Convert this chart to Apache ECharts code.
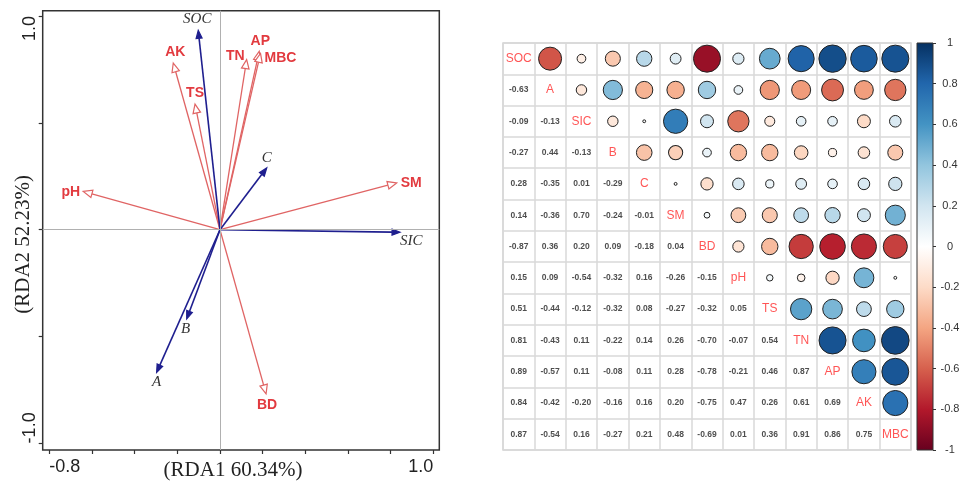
<!DOCTYPE html>
<html>
<head>
<meta charset="utf-8">
<script src="https://cdn.jsdelivr.net/npm/echarts@6/dist/echarts.min.js"></script>
<style>
  html, body { margin: 0; padding: 0; background: #fff; }
  #main { width: 961px; height: 483px; }
</style>
</head>
<body>
<div id="main"></div>
<script>
// RDA biplot, arrow tips
var speciesNames = ['SOC', 'SIC', 'C', 'B', 'A']
var speciesX = [-0.102, 0.844, 0.219, -0.156, -0.297]
var speciesY = [0.933, -0.012, 0.289, -0.418, -0.668]
var envNames = ['AK', 'TS', 'TN', 'AP', 'MBC', 'pH', 'SM', 'BD']
var envX = [-0.219, -0.117, 0.125, 0.184, 0.19, -0.641, 0.828, 0.216]
var envY = [0.78, 0.588, 0.796, 0.835, 0.825, 0.179, 0.219, -0.768]
var xTicks = [-0.8, -0.6, -0.4, -0.2, 0, 0.2, 0.4, 0.6, 0.8, 1.0]
var xLabels = [-0.8, 1.0]
var yTicks = [-1, -0.5, 0, 0.5, 1]
var yLabels = [-1, 1]

// correlation matrix, lower triangle row by row
var corrVars = ['SOC', 'A', 'SIC', 'B', 'C', 'SM', 'BD', 'pH', 'TS', 'TN', 'AP', 'AK', 'MBC']
var corrLower = [
  [],
  [-0.63],
  [-0.09, -0.13],
  [-0.27, 0.44, -0.13],
  [0.28, -0.35, 0.01, -0.29],
  [0.14, -0.36, 0.70, -0.24, -0.01],
  [-0.87, 0.36, 0.20, 0.09, -0.18, 0.04],
  [0.15, 0.09, -0.54, -0.32, 0.16, -0.26, -0.15],
  [0.51, -0.44, -0.12, -0.32, 0.08, -0.27, -0.32, 0.05],
  [0.81, -0.43, 0.11, -0.22, 0.14, 0.26, -0.70, -0.07, 0.54],
  [0.89, -0.57, 0.11, -0.08, 0.11, 0.28, -0.78, -0.21, 0.46, 0.87],
  [0.84, -0.42, -0.20, -0.16, 0.16, 0.20, -0.75, 0.47, 0.26, 0.61, 0.69],
  [0.87, -0.54, 0.16, -0.27, 0.21, 0.48, -0.69, 0.01, 0.36, 0.91, 0.86, 0.75]
]
var barTicks = [-1, -0.8, -0.6, -0.4, -0.2, 0, 0.2, 0.4, 0.6, 0.8, 1]
var rdBu = ['#67001F', '#B2182B', '#D6604D', '#F4A582', '#FDDBC7', '#FFFFFF',
  '#D1E5F0', '#92C5DE', '#4393C3', '#2166AC', '#053061']

// label offset from arrow tip: dx, dy, align
var labelPos = {
  SOC: [-1, -11, 'center'], SIC: [0, 9, 'left'], C: [0, -10, 'center'],
  B: [-1, 10, 'center'], A: [0, 10, 'center'],
  AK: [2, -11, 'center'], TS: [0, -11, 'center'], TN: [-2, -3, 'right'],
  AP: [1, -10, 'center'], MBC: [4, 5, 'left'], pH: [-3, 1, 'right'],
  SM: [4, 0, 'left'], BD: [1, 11, 'center']
}

var blue = '#1f1f8f'
var redLine = '#e06464'
var redText = '#e23a3f'

function arrowItem(kind) {
  return function(params, api) {
    var o = api.coord([0, 0])
    var p = api.coord([api.value(0), api.value(1)])
    var dx = p[0] - o[0]
    var dy = p[1] - o[1]
    var len = Math.sqrt(dx * dx + dy * dy)
    var ux = dx / len
    var uy = dy / len
    var env = kind === 'env'
    var hl = env ? 9 : 8
    var hw = env ? 3.8 : 3
    var bx = p[0] - ux * hl
    var by = p[1] - uy * hl
    var name = env ? envNames[params.dataIndex] : speciesNames[params.dataIndex]
    var lp = labelPos[name]
    return {
      type: 'group',
      children: [
        {
          type: 'line',
          shape: { x1: o[0], y1: o[1], x2: bx, y2: by },
          style: { stroke: env ? redLine : blue, lineWidth: env ? 1.3 : 1.6 }
        },
        {
          type: 'polygon',
          shape: { points: [[p[0], p[1]], [bx - uy * hw, by + ux * hw], [bx + uy * hw, by - ux * hw]] },
          style: { fill: env ? '#fff' : blue, stroke: env ? redLine : blue, lineWidth: 1.2 }
        },
        {
          type: 'text',
          x: p[0] + lp[0],
          y: p[1] + lp[1],
          style: {
            text: name,
            align: lp[2],
            verticalAlign: 'middle',
            fill: env ? redText : '#333',
            font: env ? 'bold 14px "Liberation Sans", Arial' : 'italic 15px "Liberation Serif", "Times New Roman"'
          }
        }
      ]
    }
  }
}

var speciesData = speciesNames.map(function(n, i) { return [speciesX[i], speciesY[i]] })
var envData = envNames.map(function(n, i) { return [envX[i], envY[i]] })

var circleData = []
var numberData = []
var diagData = []
corrVars.forEach(function(name, i) {
  diagData.push({ value: [i, i], name: name })
  corrLower[i].forEach(function(r, j) {
    numberData.push([j, i, r])
    circleData.push([i, j, r]) // mirror into the upper triangle
  })
})

var chart = echarts.init(document.getElementById('main'))

var option = {
  backgroundColor: '#fff',
  animation: false,
  grid: [
    { left: 42.7, top: 10.7, width: 396.6, height: 439.3, show: true, borderColor: '#333', borderWidth: 1.5, outerBoundsMode: 'none', containLabel: false },
    { left: 503, top: 43, width: 408, height: 407, show: true, borderColor: '#d4d4d4', borderWidth: 1.5, outerBoundsMode: 'none', containLabel: false },
    { left: 917, top: 43, width: 16, height: 407, outerBoundsMode: 'none', containLabel: false }
  ],
  xAxis: [
    {
      type: 'value',
      gridIndex: 0,
      min: -0.831,
      max: 1.028,
      splitLine: { show: false },
      axisLine: { show: false, onZero: false },
      axisTick: { show: true, customValues: xTicks, length: 4, lineStyle: { color: '#333', width: 1.2 } },
      axisLabel: {
        customValues: xLabels,
        formatter: function(v) { return v.toFixed(1) },
        fontSize: 18,
        color: '#222',
        fontFamily: '"Liberation Sans", Arial',
        margin: 8,
        alignMinLabel: 'left',
        alignMaxLabel: 'right'
      },
      name: '(RDA1 60.34%)',
      nameLocation: 'middle',
      nameGap: 10,
      nameMoveOverlap: false,
      nameTextStyle: { fontFamily: '"Liberation Serif", "Times New Roman"', fontSize: 21, color: '#222', padding: [0, 16, 0, 0] }
    },
    {
      type: 'category',
      gridIndex: 1,
      data: corrVars,
      axisLine: { show: false },
      axisTick: { show: false },
      axisLabel: { show: false },
      splitLine: { show: true, interval: 0, lineStyle: { color: '#d8d8d8', width: 1.5 } }
    },
    {
      type: 'category',
      gridIndex: 2,
      data: [''],
      show: false
    }
  ],
  yAxis: [
    {
      type: 'value',
      gridIndex: 0,
      min: -1.031,
      max: 1.025,
      splitLine: { show: false },
      axisLine: { show: false, onZero: false },
      axisTick: { show: true, customValues: yTicks, length: 4, lineStyle: { color: '#333', width: 1.2 } },
      axisLabel: {
        customValues: yLabels,
        formatter: function(v) { return v.toFixed(1) },
        rotate: 90,
        fontSize: 18,
        color: '#222',
        fontFamily: '"Liberation Sans", Arial',
        margin: 4,
        alignMinLabel: 'left',
        alignMaxLabel: 'right'
      },
      name: '(RDA2 52.23%)',
      nameLocation: 'middle',
      nameRotate: 90,
      nameGap: 9,
      nameMoveOverlap: false,
      nameTextStyle: { fontFamily: '"Liberation Serif", "Times New Roman"', fontSize: 21, color: '#222', padding: [0, 28, 0, 0] }
    },
    {
      type: 'category',
      gridIndex: 1,
      data: corrVars,
      inverse: true,
      axisLine: { show: false },
      axisTick: { show: false },
      axisLabel: { show: false },
      splitLine: { show: true, interval: 0, lineStyle: { color: '#d8d8d8', width: 1.5 } }
    },
    {
      type: 'value',
      gridIndex: 2,
      min: -1,
      max: 1,
      interval: 0.2,
      position: 'right',
      splitLine: { show: false },
      axisLine: { show: false },
      axisTick: { show: true, length: 3, lineStyle: { color: '#333' } },
      axisLabel: {
        margin: 17,
        align: 'center',
        fontSize: 11,
        color: '#333',
        fontFamily: '"Liberation Sans", Arial',
        formatter: function(v) { return String(+v.toFixed(1)) }
      }
    }
  ],
  visualMap: {
    type: 'continuous',
    show: false,
    min: -1,
    max: 1,
    dimension: 2,
    seriesIndex: 3,
    inRange: { color: rdBu }
  },
  series: [
    {
      // zero reference lines
      type: 'line',
      xAxisIndex: 0,
      yAxisIndex: 0,
      data: [],
      z: 1,
      markLine: {
        silent: true,
        symbol: 'none',
        label: { show: false },
        lineStyle: { color: '#b0b0b0', width: 1, type: 'solid' },
        data: [{ xAxis: 0 }, { yAxis: 0 }]
      }
    },
    {
      type: 'custom',
      xAxisIndex: 0,
      yAxisIndex: 0,
      z: 4,
      renderItem: arrowItem('species'),
      data: speciesData
    },
    {
      type: 'custom',
      xAxisIndex: 0,
      yAxisIndex: 0,
      z: 3,
      renderItem: arrowItem('env'),
      data: envData
    },
    {
      type: 'scatter',
      xAxisIndex: 1,
      yAxisIndex: 1,
      data: circleData,
      symbolSize: function(v) { return 29 * Math.sqrt(Math.abs(v[2])) },
      itemStyle: { borderColor: '#222', borderWidth: 1, opacity: 1 }
    },
    {
      type: 'scatter',
      xAxisIndex: 1,
      yAxisIndex: 1,
      data: numberData,
      symbolSize: 1,
      itemStyle: { color: 'rgba(0,0,0,0)' },
      label: {
        show: true,
        position: 'inside',
        formatter: function(p) { return p.value[2].toFixed(2) },
        fontSize: 8.5,
        fontWeight: 'bold',
        color: '#222',
        fontFamily: '"Liberation Sans", Arial'
      }
    },
    {
      type: 'scatter',
      xAxisIndex: 1,
      yAxisIndex: 1,
      data: diagData,
      symbolSize: 1,
      itemStyle: { color: 'rgba(0,0,0,0)' },
      label: {
        show: true,
        position: 'inside',
        formatter: '{b}',
        fontSize: 12,
        color: '#ff2a2a',
        fontFamily: '"Liberation Sans", Arial'
      }
    },
    {
      // colour bar
      type: 'custom',
      xAxisIndex: 2,
      yAxisIndex: 2,
      data: [[0, barTicks[0], barTicks[barTicks.length - 1]]],
      renderItem: function(params, api) {
        var cs = params.coordSys
        var bottom = api.coord([0, api.value(1)])
        var top = api.coord([0, api.value(2)])
        var stops = rdBu.slice().reverse().map(function(c, i) {
          return { offset: i / (rdBu.length - 1), color: c }
        })
        return {
          type: 'rect',
          shape: { x: cs.x, y: top[1], width: cs.width, height: bottom[1] - top[1] },
          style: { fill: new echarts.graphic.LinearGradient(0, 0, 0, 1, stops), stroke: '#333', lineWidth: 1 }
        }
      }
    }
  ]
}

chart.setOption(option)
window.addEventListener('resize', function() { chart.resize() })
</script>
</body>
</html>
